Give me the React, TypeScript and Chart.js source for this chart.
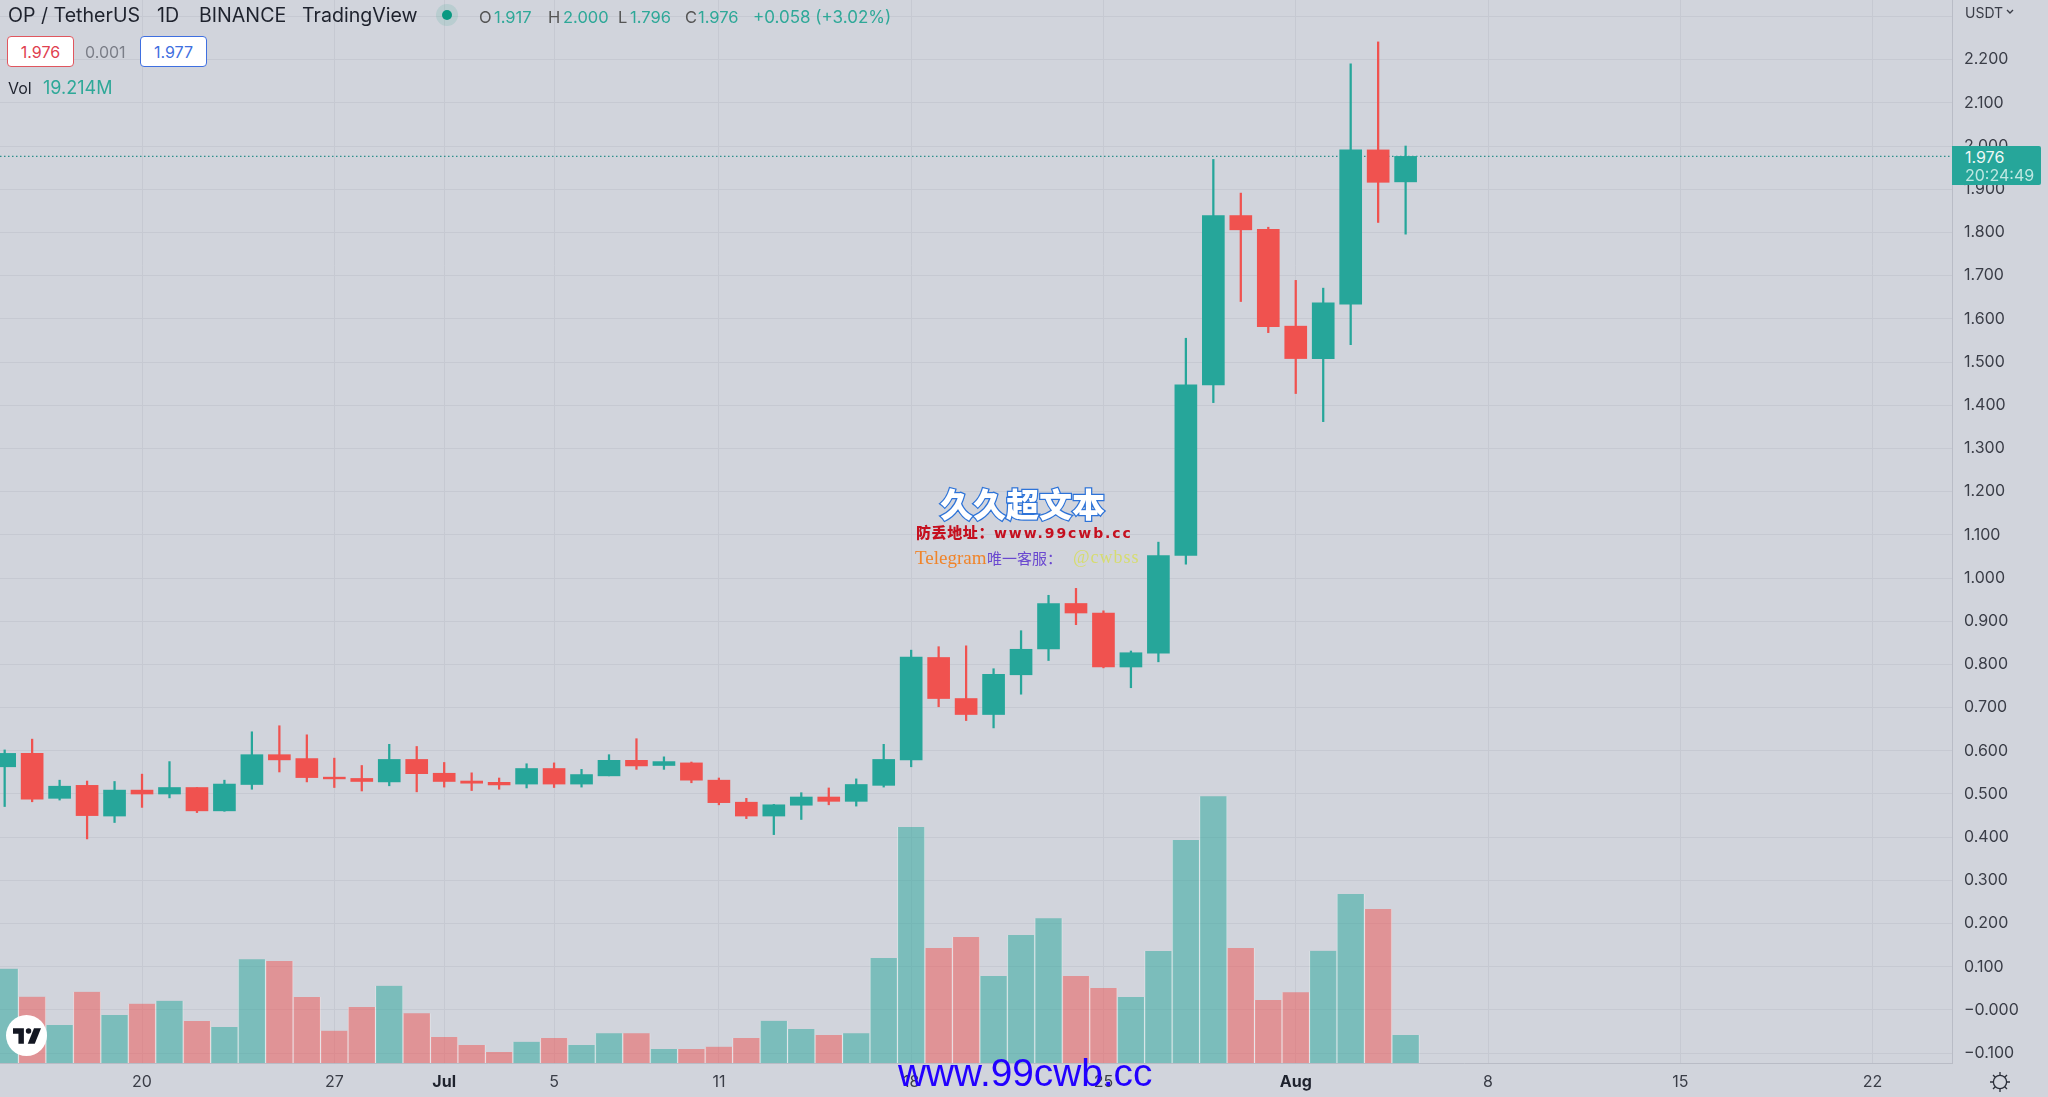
import React, { useEffect, useRef } from "react";
import { Chart, registerables } from "chart.js";

Chart.register(...registerables);

// Days are counted from 20 June (day 0). The first candle is 15 June, the last 5 August.
const firstDay = -5;
const opens = [0.563,0.594,0.490,0.520,0.449,0.509,0.500,0.515,0.461,0.522,0.591,0.582,0.539,0.536,0.528,0.580,0.548,0.530,0.527,0.523,0.559,0.523,0.542,0.578,0.566,0.572,0.532,0.481,0.449,0.474,0.493,0.483,0.520,0.579,0.816,0.721,0.684,0.776,0.836,0.941,0.919,0.794,0.826,1.052,1.447,1.839,1.807,1.583,1.508,1.634,1.991,1.917];
const closes = [0.594,0.488,0.518,0.450,0.509,0.500,0.515,0.461,0.523,0.591,0.579,0.538,0.535,0.529,0.580,0.547,0.529,0.525,0.521,0.559,0.523,0.545,0.578,0.565,0.575,0.532,0.480,0.449,0.475,0.493,0.483,0.522,0.580,0.817,0.721,0.684,0.777,0.835,0.941,0.919,0.794,0.827,1.052,1.447,1.839,1.806,1.582,1.508,1.637,1.991,1.916,1.976];
const highs = [0.602,0.627,0.532,0.530,0.529,0.546,0.575,0.515,0.532,0.644,0.658,0.637,0.583,0.566,0.615,0.610,0.573,0.549,0.537,0.570,0.572,0.557,0.591,0.628,0.586,0.574,0.537,0.490,0.476,0.503,0.514,0.535,0.615,0.833,0.841,0.843,0.790,0.878,0.960,0.976,0.924,0.831,1.083,1.555,1.969,1.891,1.812,1.689,1.671,2.190,2.241,2.000];
const lows = [0.471,0.482,0.486,0.396,0.434,0.469,0.491,0.457,0.460,0.511,0.551,0.528,0.515,0.507,0.519,0.505,0.516,0.508,0.511,0.514,0.515,0.516,0.542,0.557,0.557,0.526,0.475,0.443,0.406,0.441,0.475,0.472,0.516,0.563,0.702,0.670,0.653,0.731,0.809,0.892,0.792,0.746,0.806,1.032,1.406,1.640,1.568,1.427,1.362,1.540,1.823,1.796];
const volumes = [64.7,45.5,26.1,48.9,32.9,40.7,42.7,28.8,24.7,71.1,70.0,45.3,22.2,38.4,53.0,34.1,17.8,12.3,7.5,14.6,17.2,12.3,20.4,20.4,9.6,9.6,11.2,17.2,29.0,23.3,19.2,20.4,72.0,161.9,78.9,86.4,59.7,87.8,99.3,59.7,51.5,45.3,76.8,153.0,183.0,78.9,43.2,48.5,77.0,115.9,105.6,19.214];

const tickDays = [0, 7, 11, 15, 21, 28, 35, 42, 49, 56, 63];
const tickLabels = ["20", "27", "Jul", "5", "11", "18", "25", "Aug", "8", "15", "22"];
const boldLabels = ["Jul", "Aug"];
const priceTicks = [2.3,2.2,2.1,2.0,1.9,1.8,1.7,1.6,1.5,1.4,1.3,1.2,1.1,1.0,0.9,0.8,0.7,0.6,0.5,0.4,0.3,0.2,0.1,0,-0.1];
const lastPrice = 1.976;

const xMin = -5.17;
const xMax = 65.89;
const priceMin = -0.1227;
const priceMax = 2.338;
const volumeMax = 729.2;

const UP = "#26a69a";
const DOWN = "#f0524f";
const UP_VOL = "rgba(38,166,154,0.5)";
const DOWN_VOL = "rgba(240,82,79,0.5)";
const BG = "#d1d4dc";
const GRID = "#c6c9d2";
const TEXT = "#3a3d47";
const FONT = "Inter, Roboto, sans-serif";

const days = opens.map((_, i) => firstDay + i);
const isUp = opens.map((o, i) => closes[i] >= o);
const priceColors = isUp.map((u) => (u ? UP : DOWN));
const volColors = isUp.map((u) => (u ? UP_VOL : DOWN_VOL));
const isBoldTick = (c: any) => boldLabels.includes(tickLabels[tickDays.indexOf(c?.tick?.value)]);

function abs(x: number, y: number, extra: React.CSSProperties = {}): React.CSSProperties {
  return { position: "absolute", left: x, top: y, transform: "translateY(-50%)", whiteSpace: "nowrap", lineHeight: 1, ...extra };
}

export default function App() {
  const ref = useRef<HTMLCanvasElement>(null);
  useEffect(() => {
    document.body.style.margin = "0";
    const chart = new Chart(ref.current!, {
      type: "bar",
      data: {
        datasets: [
          {
            type: "bar",
            label: "Body",
            data: days.map((d, i) => ({ x: d, y: [opens[i], closes[i]] })) as any,
            backgroundColor: priceColors,
            barThickness: 22,
            grouped: false,
            order: 0,
            yAxisID: "y",
          },
          {
            type: "bar",
            label: "Wick",
            data: days.map((d, i) => ({ x: d, y: [lows[i], highs[i]] })) as any,
            backgroundColor: priceColors,
            barThickness: 1.6,
            grouped: false,
            order: 1,
            yAxisID: "y",
          },
          {
            type: "line",
            label: "Last",
            data: [{ x: xMin, y: lastPrice }, { x: xMax, y: lastPrice }],
            borderColor: "#2f8f8c",
            borderWidth: 1.2,
            borderDash: [1.5, 2.5],
            pointRadius: 0,
            order: 2,
            yAxisID: "y",
          },
          {
            type: "bar",
            label: "Volume",
            data: days.map((d, i) => ({ x: d, y: volumes[i] })),
            backgroundColor: volColors,
            borderColor: "rgba(255,255,255,0.4)",
            borderWidth: { left: 0.8, right: 0.8, top: 0, bottom: 0 },
            borderSkipped: false,
            barThickness: 27.47,
            grouped: false,
            order: 3,
            yAxisID: "vol",
          },
        ],
      } as any,
      options: {
        responsive: false,
        animation: false,
        layout: { padding: 0 },
        plugins: { legend: { display: false }, tooltip: { enabled: false } },
        scales: {
          x: {
            type: "linear",
            offset: false,
            min: xMin,
            max: xMax,
            afterBuildTicks: (s: any) => {
              s.ticks = tickDays.map((v) => ({ value: v }));
            },
            afterFit: (s: any) => {
              s.height = 34;
              s.paddingLeft = 0;
              s.paddingRight = 0;
            },
            grid: { color: GRID, offset: false, drawTicks: false },
            border: { color: "#b9bcc6" },
            ticks: {
              autoSkip: false,
              maxRotation: 0,
              padding: 10,
              color: (c: any) => (isBoldTick(c) ? "#1e222d" : TEXT),
              font: (c: any) => ({
                family: FONT,
                size: 16,
                weight: isBoldTick(c) ? "bold" : "normal",
              }),
              callback: (v: any) => tickLabels[tickDays.indexOf(v)],
            },
          },
          y: {
            type: "linear",
            position: "right",
            min: priceMin,
            max: priceMax,
            afterBuildTicks: (s: any) => {
              s.ticks = priceTicks.map((v) => ({ value: v }));
            },
            afterFit: (s: any) => {
              s.width = 96;
              s.paddingTop = 0;
              s.paddingBottom = 0;
            },
            grid: { color: GRID, drawTicks: false },
            border: { color: "#b9bcc6" },
            ticks: {
              autoSkip: false,
              padding: 12,
              color: TEXT,
              font: { family: FONT, size: 16 },
              callback: (v: any) => {
                if (v > 2.25) return "";
                if (v < 0.05) return (v < -0.05 ? "−0.100" : "−0.000");
                return Number(v).toFixed(3);
              },
            },
          },
          vol: {
            type: "linear",
            display: false,
            min: 0,
            max: volumeMax,
          },
        },
      } as any,
    });
    return () => chart.destroy();
  }, []);

  const green = "#2ea898";
  return (
    <div style={{ position: "fixed", left: 0, top: 0, width: 2048, height: 1097, background: BG, overflow: "hidden", fontFamily: FONT, color: "#1e222d" }}>
      <canvas ref={ref} width={2048} height={1097} style={{ display: "block", position: "absolute", left: 0, top: 0 }} />

      <span style={abs(8, 16, { fontSize: 19.6 })}>OP / TetherUS</span>
      <span style={abs(157, 16, { fontSize: 19.6 })}>1D</span>
      <span style={abs(199, 16, { fontSize: 19.6 })}>BINANCE</span>
      <span style={abs(302, 16, { fontSize: 19.6 })}>TradingView</span>
      <span style={{ position: "absolute", left: 436, top: 4, width: 22, height: 22, borderRadius: 11, background: "rgba(20,160,130,0.13)" }} />
      <span style={{ position: "absolute", left: 442, top: 10, width: 10, height: 10, borderRadius: 5, background: "#089981" }} />
      <span style={abs(479, 17, { fontSize: 16.5, color: "#555" })}>O</span>
      <span style={abs(494, 17, { fontSize: 16.5, color: green })}>1.917</span>
      <span style={abs(548, 17, { fontSize: 16.5, color: "#555" })}>H</span>
      <span style={abs(563, 17, { fontSize: 16.5, color: green })}>2.000</span>
      <span style={abs(618, 17, { fontSize: 16.5, color: "#555" })}>L</span>
      <span style={abs(630, 17, { fontSize: 16.5, color: green })}>1.796</span>
      <span style={abs(685, 17, { fontSize: 16.5, color: "#555" })}>C</span>
      <span style={abs(698, 17, { fontSize: 16.5, color: green })}>1.976</span>
      <span style={abs(753, 17, { fontSize: 17, color: green })}>+0.058 (+3.02%)</span>

      <span style={{ position: "absolute", left: 7, top: 36, width: 67, height: 31, boxSizing: "border-box", border: "1.5px solid #e0565f", borderRadius: 4, background: "#fff", color: "#e0404f", fontSize: 16, display: "flex", alignItems: "center", justifyContent: "center" }}>1.976</span>
      <span style={abs(85, 52, { fontSize: 16, color: "#7b7e88" })}>0.001</span>
      <span style={{ position: "absolute", left: 140, top: 36, width: 67, height: 31, boxSizing: "border-box", border: "1.5px solid #3f6fe0", borderRadius: 4, background: "#fff", color: "#3f6fe0", fontSize: 16, display: "flex", alignItems: "center", justifyContent: "center" }}>1.977</span>
      <span style={abs(8, 88, { fontSize: 16 })}>Vol</span>
      <span style={abs(43, 88, { fontSize: 18, color: green })}>19.214M</span>

      <span style={abs(1965, 13, { fontSize: 14, color: TEXT })}>USDT</span>
      <svg style={{ position: "absolute", left: 2006, top: 9, width: 8, height: 6 }} viewBox="0 0 8 6"><path d="M1 1 L4 4 L7 1" fill="none" stroke={TEXT} strokeWidth="1.4" /></svg>

      <div style={{ position: "absolute", left: 1952, top: 146, width: 89, height: 39, background: "#26a69a", borderRadius: "0 2px 2px 0" }}>
        <span style={abs(13, 11, { fontSize: 16, color: "#eef8f6" })}>1.976</span>
        <span style={abs(13, 29, { fontSize: 16, color: "#bfe8e2" })}>20:24:49</span>
      </div>

      {/* TradingView mark */}
      <div style={{ position: "absolute", left: 6, top: 1015, width: 41, height: 41, borderRadius: 21, background: "#fff", display: "flex", alignItems: "center", justifyContent: "center" }}>
        <svg width="28" height="16" viewBox="0 0 36 20">
          <path d="M0 0 H14 V20 H7 V7 H0 Z" fill="#131722" />
          <circle cx="20" cy="3.5" r="3.5" fill="#131722" />
          <path d="M27 0 H36 L28 20 H19 Z" fill="#131722" />
        </svg>
      </div>

      {/* settings gear */}
      <svg style={{ position: "absolute", left: 1988, top: 1070, width: 24, height: 24 }} viewBox="0 0 24 24" fill="none" stroke="#2a2e39" strokeWidth="1.3">
        <circle cx="12" cy="12" r="6.6" />
        <path d="M12 2 V5.4 M12 18.6 V22 M2 12 H5.4 M18.6 12 H22 M5 5 L7.3 7.3 M16.7 16.7 L19 19 M19 5 L16.7 7.3 M7.3 16.7 L5 19" />
      </svg>

      {/* site watermark */}
      <span style={abs(940, 503, { fontFamily: '"Noto Sans CJK SC", sans-serif', fontWeight: 900, fontSize: 33, color: "#fff", WebkitTextStroke: "2.5px #2d73d8", paintOrder: "stroke fill" } as any)}>久久超文本</span>
      <span style={abs(916, 532, { fontFamily: '"Noto Sans CJK SC", sans-serif', fontWeight: 900, fontSize: 15, letterSpacing: 0.6, color: "#c5101f" })}>防丢地址：<span style={{ fontFamily: '"DejaVu Sans", sans-serif', fontWeight: 700, fontSize: 14, letterSpacing: 1.9 }}>www.99cwb.cc</span></span>
      <span style={abs(915, 557, { fontFamily: '"Liberation Serif", serif', fontSize: 19, color: "#f0842a" })}>Telegram</span>
      <span style={abs(987, 557, { fontFamily: '"Noto Sans CJK SC", sans-serif', fontSize: 15, color: "#6a48d0" })}>唯一客服：</span>
      <span style={abs(1073, 557, { fontFamily: '"Liberation Serif", serif', fontSize: 18, letterSpacing: 1, color: "#d6dc70" })}>@cwbss</span>
      <span style={abs(898, 1073, { fontFamily: '"Liberation Sans", Arial, sans-serif', fontSize: 38.8, color: "#2200ff" })}>www.99cwb.cc</span>
    </div>
  );
}
